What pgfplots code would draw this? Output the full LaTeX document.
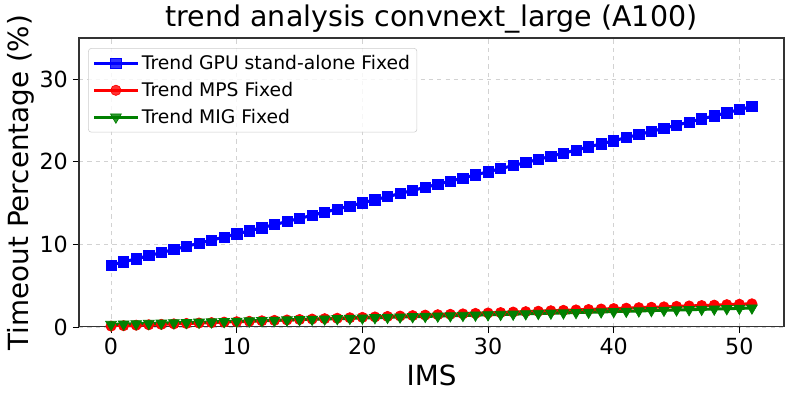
\documentclass[border=0pt]{standalone}
\usepackage{pgfplots}
\pgfplotsset{compat=1.18}
\usepackage{fontspec}
\setmainfont{DejaVu Sans}
\begin{document}
\begin{tikzpicture}
\useasboundingbox (-56.9pt,-51.6pt) rectangle (514.1pt,235.4pt);
\begin{axis}[
  at={(0,0)}, anchor=south west,
  scale only axis, width=507.6pt, height=208pt,
  xmin=-2.55, xmax=53.55, ymin=0, ymax=35,
  xtick={0,10,20,30,40,50}, ytick={0,10,20,30},
  /pgf/number format/assume math mode=true,
  tick label style={font=\fontsize{16}{18}\selectfont},
  tick align=outside, major tick length=4.5pt,
  tick style={black, line width=0.6pt},
  axis line style={line width=0.8pt, black!80},
  xtick pos=bottom, ytick pos=left,
  grid=major,
  grid style={dashed, gray!35, line width=0.6pt},
  title={trend analysis convnext\_large (A100)},
  title style={font=\fontsize{20.5}{22}\selectfont, yshift=-6pt},
  xlabel={IMS}, ylabel={Timeout Percentage (\%)},
  label style={font=\fontsize{20}{22}\selectfont},
  xlabel style={yshift=0pt},
  ylabel style={yshift=-3pt},
  legend style={at={(0.013,0.965)}, anchor=north west,
    font=\fontsize{13.5}{15}\selectfont, draw=gray!40, rounded corners=2pt,
    fill=white, fill opacity=0.8, text opacity=1,
    row sep=3.5pt, inner sep=3pt},
  legend cell align=left,
  legend image code/.code={
    \draw[#1, mark repeat=2, mark phase=2] plot coordinates {(0cm,0cm) (0.55cm,0cm) (1.1cm,0cm)};
  },
  every axis plot/.append style={line width=2.2pt},
]
\addplot[blue, mark=square*, mark size=3.7pt, mark options={solid, line width=0.5pt}] coordinates {
(0,7.50)(1,7.88)(2,8.25)(3,8.63)(4,9.01)(5,9.38)(6,9.76)(7,10.14)(8,10.51)(9,10.89)
(10,11.27)(11,11.64)(12,12.02)(13,12.39)(14,12.77)(15,13.15)(16,13.52)(17,13.90)(18,14.28)(19,14.65)
(20,15.03)(21,15.41)(22,15.78)(23,16.16)(24,16.54)(25,16.91)(26,17.29)(27,17.67)(28,18.04)(29,18.42)
(30,18.80)(31,19.17)(32,19.55)(33,19.92)(34,20.30)(35,20.68)(36,21.05)(37,21.43)(38,21.81)(39,22.18)
(40,22.56)(41,22.94)(42,23.31)(43,23.69)(44,24.07)(45,24.44)(46,24.82)(47,25.20)(48,25.57)(49,25.95)
(50,26.33)(51,26.70)};
\addlegendentry{Trend GPU stand-alone Fixed}
\addplot[red, mark=*, mark size=3.7pt, mark options={solid, line width=0.5pt}] coordinates {
(0,0.10)(1,0.15)(2,0.21)(3,0.26)(4,0.31)(5,0.37)(6,0.42)(7,0.47)(8,0.52)(9,0.58)
(10,0.63)(11,0.68)(12,0.74)(13,0.79)(14,0.84)(15,0.90)(16,0.95)(17,1.00)(18,1.05)(19,1.11)
(20,1.16)(21,1.21)(22,1.27)(23,1.32)(24,1.37)(25,1.43)(26,1.48)(27,1.53)(28,1.58)(29,1.64)
(30,1.69)(31,1.74)(32,1.80)(33,1.85)(34,1.90)(35,1.96)(36,2.01)(37,2.06)(38,2.11)(39,2.17)
(40,2.22)(41,2.27)(42,2.33)(43,2.38)(44,2.43)(45,2.49)(46,2.54)(47,2.59)(48,2.64)(49,2.70)
(50,2.75)(51,2.80)};
\addlegendentry{Trend MPS Fixed}
\addplot[green!50!black, mark=triangle*, mark size=4.5pt, mark options={solid, rotate=180, line width=0.5pt}] coordinates {
(0,0.30)(1,0.34)(2,0.38)(3,0.42)(4,0.46)(5,0.50)(6,0.53)(7,0.57)(8,0.61)(9,0.65)
(10,0.69)(11,0.73)(12,0.77)(13,0.81)(14,0.85)(15,0.89)(16,0.92)(17,0.96)(18,1.00)(19,1.04)
(20,1.08)(21,1.12)(22,1.16)(23,1.20)(24,1.24)(25,1.28)(26,1.31)(27,1.35)(28,1.39)(29,1.43)
(30,1.47)(31,1.51)(32,1.55)(33,1.59)(34,1.63)(35,1.67)(36,1.70)(37,1.74)(38,1.78)(39,1.82)
(40,1.86)(41,1.90)(42,1.94)(43,1.98)(44,2.02)(45,2.06)(46,2.09)(47,2.13)(48,2.17)(49,2.21)
(50,2.25)(51,2.29)};
\addlegendentry{Trend MIG Fixed}
\end{axis}
\end{tikzpicture}
\end{document}
